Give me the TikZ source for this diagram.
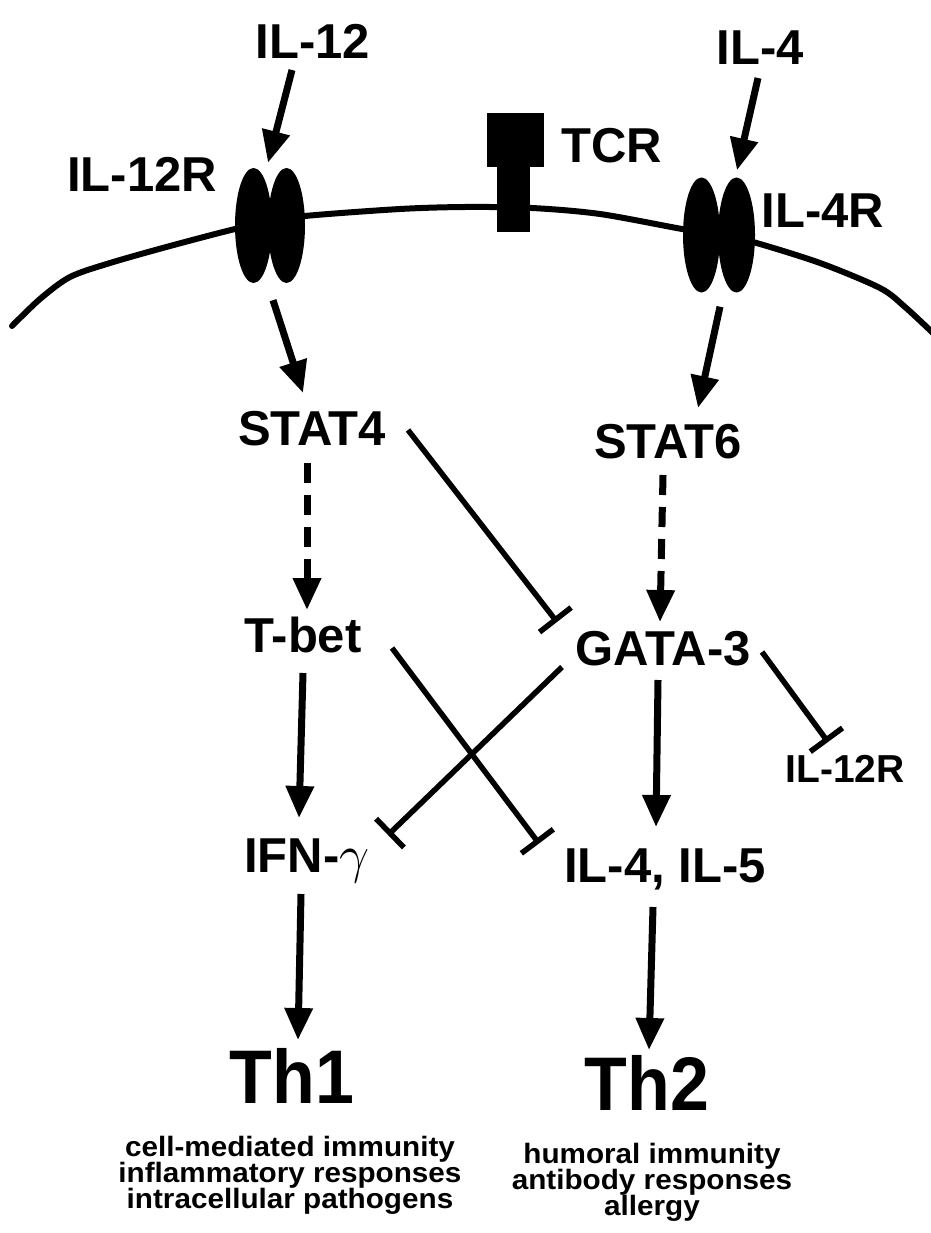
\documentclass[tikz,border=0pt]{standalone}
\usepackage{fontspec}
\setmainfont{Liberation Sans}
\usepackage{graphicx}
\usetikzlibrary{arrows.meta,shapes.geometric}
\newcommand\tightlines{\lineskiplimit=-50pt\relax}
\newcommand\biggamma{\scalebox{2.15}{\Huge$\gamma$}}
\begin{document}
\begin{tikzpicture}[x=1pt,y=-1pt,
  lab/.style={font=\fontsize{49}{55}\selectfont\bfseries, inner sep=0pt, anchor=base},
  smalllab/.style={font=\fontsize{39}{44}\selectfont\bfseries, inner sep=0pt, anchor=base},
  big/.style={font=\fontsize{76}{80}\selectfont\bfseries, inner sep=0pt, anchor=base},
  desc/.style={font={\fontsize{28}{26}\selectfont\bfseries\tightlines}, inner sep=0pt, anchor=north, align=center, xscale=1.06, transform shape},
  rec/.style={ellipse, fill=black, draw=none, inner sep=0pt, minimum width=37pt, minimum height=115pt},
  act/.style={line width=7pt, -{Triangle[length=32pt,width=27pt]}},
  dashact/.style={act, dash pattern=on 20pt off 12pt},
  inh/.style={line width=5.5pt, -{Bar[width=40pt]}},
  membrane/.style={line width=6pt, line cap=round, line join=round}
]
\useasboundingbox (0,0) rectangle (930,1233);

% membrane
\draw[membrane] plot[smooth, tension=0.5] coordinates {(12,326) (40,299) (70,277) (110,263) (170,246) (235,229) (270,222) (305,216) (400,209) (465,207) (532,208) (600,214) (682,229) (720,235) (753,242) (820,263) (880,288) (905,307) (934,334)};

% TCR
\fill (487,113) rectangle (544,167);
\fill (497,165) rectangle (530,232);

% receptors
\node[rec] (r12a) at (253.5,225.5) {};
\node[rec] (r12b) at (286.5,225.5) {};
\node[rec] (r4a) at (701.5,235) {};
\node[rec] (r4b) at (736.5,235) {};

% labels
\node[lab] (il12) at (313,59) {IL-12};
\node[lab] (il12rlab) at (142,192) {IL-12R};
\node[lab] (tcrlab) at (612,163) {TCR};
\node[lab] (il4) at (760,65) {IL-4};
\node[lab] (il4rlab) at (823,228) {IL-4R};
\node[lab] (stat4) at (312,445) {STAT4};
\node[lab] (stat6) at (668,458) {STAT6};
\node[lab] (tbet) at (303,652) {T-bet};
\node[lab] (gata3) at (663,665) {GATA-3};
\node[smalllab] (il12rs) at (845,782) {IL-12R};
\node[lab] (ifng) at (307,872) {IFN-\biggamma};
\node[lab] (il45) at (665,882) {IL-4, IL-5};
\node[big] (th1) at (292,1103) {\scalebox{0.92}[1]{Th1}};
\node[big] (th2) at (647,1110) {\scalebox{0.92}[1]{Th2}};
\node[desc] (th1d) at (290,1136) {cell-mediated immunity\\inflammatory responses\\intracellular pathogens};
\node[desc] (th2d) at (652,1143) {humoral immunity\\antibody responses\\allergy};

% connectors
\draw[act] ([shift={(-21,11)}]il12.base) -- ([shift={(14.5,-5)}]r12a.north);
\draw[act] ([shift={(19.5,17)}]r12a.south) -- ([shift={(-9,-52)}]stat4.base);
\draw[act] ([shift={(-2,13)}]il4.base) -- ([shift={(0.5,-7)}]r4b.north);
\draw[act] ([shift={(18.5,14)}]r4a.south) -- ([shift={(30,-50)}]stat6.base);
\draw[dashact] ([shift={(-5,18)}]stat4.base) -- ([shift={(4,-42)}]tbet.base);
\draw[dashact] ([shift={(-5,17)}]stat6.base) -- ([shift={(-3,-43)}]gata3.base);
\draw[inh] ([shift={(96,-15)}]stat4.base) -- ([shift={(-106,-43)}]gata3.base);
\draw[act] ([shift={(0,21)}]tbet.base) -- ([shift={(-8,-54)}]ifng.base);
\draw[act] ([shift={(-5,15)}]gata3.base) -- ([shift={(-9,-55)}]il45.base);
\draw[inh] ([shift={(-101,2)}]gata3.base) -- ([shift={(81,-37)}]ifng.base);
\draw[inh] ([shift={(89,-4)}]tbet.base) -- ([shift={(-126,-38.5)}]il45.base);
\draw[inh] ([shift={(99,-13)}]gata3.base) -- ([shift={(-17,-40)}]il12rs.base);
\draw[act] ([shift={(-6,22)}]ifng.base) -- ([shift={(6,-63)}]th1.base);
\draw[act] ([shift={(-12,25)}]il45.base) -- ([shift={(2,-60)}]th2.base);
\end{tikzpicture}
\end{document}
